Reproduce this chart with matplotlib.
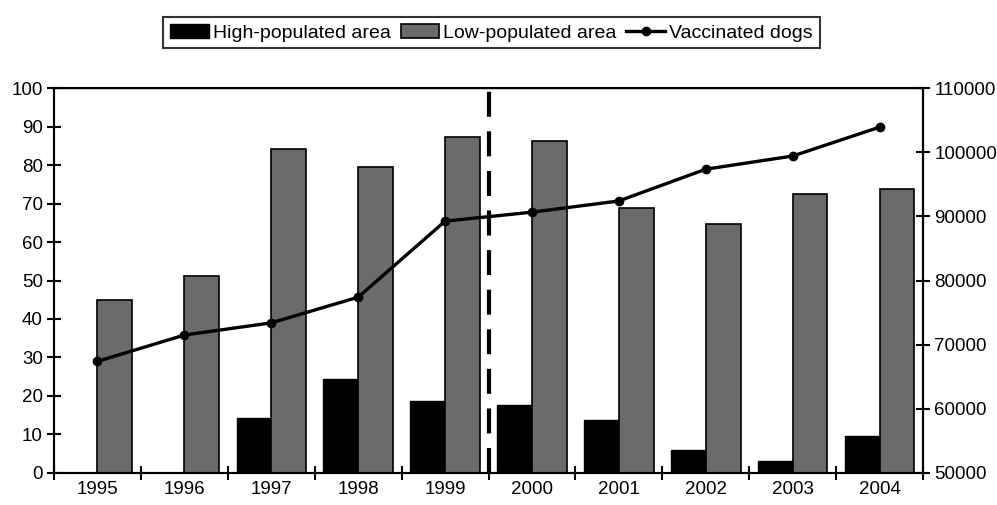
import numpy as np
import matplotlib.pyplot as plt
from matplotlib.ticker import FixedLocator

years = ['1995', '1996', '1997', '1998', '1999', '2000', '2001', '2002', '2003', '2004']
high_pop = [0, 0, 14.3, 24.4, 18.6, 17.6, 13.7, 6.0, 3.2, 9.7]
low_pop = [45.0, 51.2, 84.1, 79.6, 87.4, 86.2, 68.8, 64.7, 72.6, 73.7]
vaccinated = [67400, 71500, 73400, 77400, 89250, 90650, 92400, 97350, 99400, 103900]

plt.rcParams['font.family'] = ['Liberation Sans', 'DejaVu Sans']


def generate_plot() -> None:
    fig = plt.figure(figsize=(9.97, 5.05), dpi=100)
    ax = fig.add_axes([0.0542, 0.0634, 0.8716, 0.7623])
    x = np.arange(len(years))
    w = 0.4

    ax.bar(x - w / 2, high_pop, w, color='black', edgecolor='black', linewidth=1,
           label='High-populated area')
    ax.bar(x + w / 2, low_pop, w, color='#6b6b6b', edgecolor='black', linewidth=1.2,
           label='Low-populated area')
    ax.axvline(4.5, color='black', linewidth=3, linestyle=(0, (6, 3.5)))

    ax.set_xlim(-0.5, len(years) - 0.5)
    ax.set_ylim(0, 100)
    ax.set_yticks(range(0, 101, 10))
    ax.set_xticks(x)
    ax.set_xticklabels(years)
    ax.xaxis.set_minor_locator(FixedLocator(np.arange(-0.5, len(years), 1.0)))
    ax.tick_params(axis='x', which='major', length=0, labelsize=13.5, pad=6)
    ax.tick_params(axis='x', which='minor', direction='inout', length=10, width=1.5)
    ax.tick_params(axis='y', direction='inout', length=10, width=1.5, labelsize=13.5, pad=3)

    ax2 = ax.twinx()
    ax2.plot(x, vaccinated, color='black', linewidth=2.4, marker='o', markersize=6,
             label='Vaccinated dogs')
    ax2.set_ylim(50000, 110000)
    ax2.set_yticks(range(50000, 110001, 10000))
    ax2.tick_params(axis='y', direction='inout', length=10, width=1.5, labelsize=13.5, pad=3)

    for a in (ax, ax2):
        for s in a.spines.values():
            s.set_linewidth(1.5)
    ax.spines['top'].set_linewidth(1.0)

    h1, l1 = ax.get_legend_handles_labels()
    h2, l2 = ax2.get_legend_handles_labels()
    leg = fig.legend(h1 + h2, l1 + l2, loc='center', bbox_to_anchor=(0.493, 0.935),
                     ncol=3, frameon=True, fancybox=False, edgecolor='black',
                     fontsize=14, handlelength=2.0, handletextpad=0.2,
                     columnspacing=0.5, borderpad=0.35, borderaxespad=0)
    leg.get_frame().set_linewidth(1.5)

    fig.savefig('out.png', dpi=100)


if __name__ == '__main__':
    generate_plot()
